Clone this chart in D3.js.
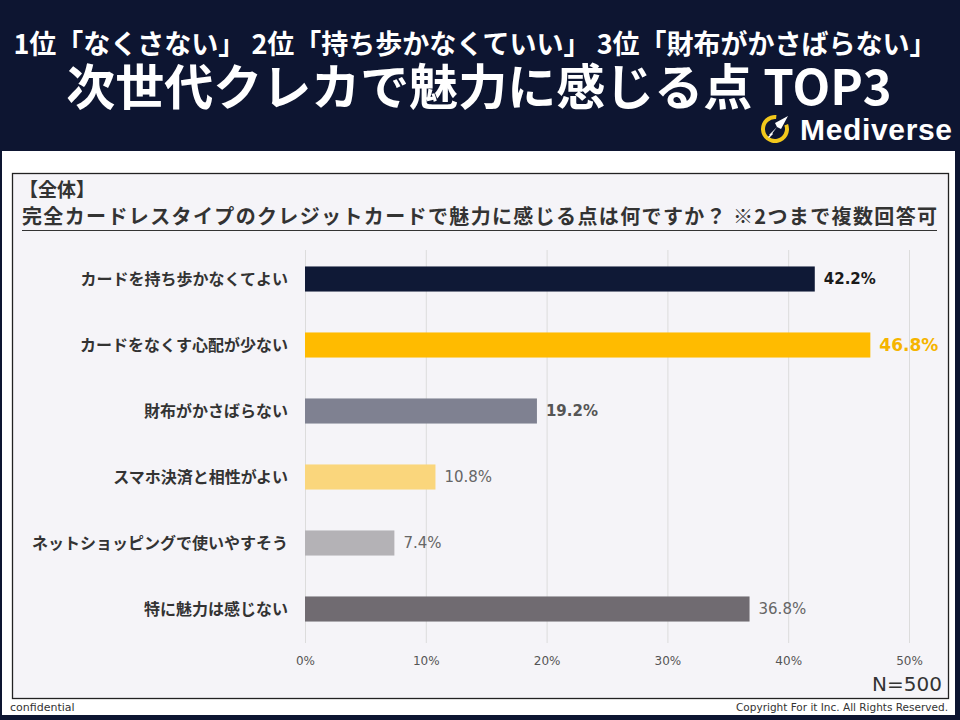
<!DOCTYPE html>
<html><head><meta charset="utf-8">
<script src="https://cdnjs.cloudflare.com/ajax/libs/d3/7.8.5/d3.min.js"></script>
<style>body{margin:0;background:#0d1531;}svg{display:block;}</style>
</head><body><svg id="c" width="960" height="720"></svg>
<script>
const headline1 = "1位「なくさない」 2位「持ち歩かなくていい」 3位「財布がかさばらない」";
const headline2 = "次世代クレカで魅力に感じる点 TOP3";
const segmentTitle = "【全体】";
const question = "完全カードレスタイプのクレジットカードで魅力に感じる点は何ですか？ ※2つまで複数回答可";
const categories = ["カードを持ち歩かなくてよい","カードをなくす心配が少ない","財布がかさばらない","スマホ決済と相性がよい","ネットショッピングで使いやすそう","特に魅力は感じない"];
const values = [42.2, 46.8, 19.2, 10.8, 7.4, 36.8];
const barColors = ["#0f1936","#ffbb00","#7f8191","#fad67c","#b4b2b6","#706b71"];
const labelColors = ["#1a1a1a","#f5b400","#555555","#666666","#666666","#666666"];
const labelWeights = [700,700,700,400,400,400];
const labelSizes = [15,17,15,15,15,15];
const xTicks = [0,10,20,30,40,50];
const sampleNote = "N=500";

const svg = d3.select("#c");
const JP = "'Noto Sans CJK JP','Noto Sans',sans-serif";

svg.append("rect").attr("width",960).attr("height",720).attr("fill","#0d1531");
svg.append("rect").attr("x",2).attr("y",151).attr("width",953).attr("height",564).attr("fill","#ffffff");

// header
svg.append("text").attr("x",475).attr("y",54).attr("text-anchor","middle")
  .attr("font-family",JP).attr("font-weight",700).attr("font-size",27).attr("fill","#fff").text(headline1);
svg.append("text").attr("x",479).attr("y",105).attr("text-anchor","middle")
  .attr("font-family",JP).attr("font-weight",700).attr("font-size",49).attr("fill","#fff").text(headline2);

// logo
const lg = svg.append("g").attr("transform","translate(775,129)");
lg.append("path").attr("d", d3.arc().innerRadius(10).outerRadius(14).startAngle(0.3*Math.PI).endAngle(1.95*Math.PI)())
  .attr("transform","rotate(15)").attr("fill","#f2c81c");
lg.append("path").attr("d","M-6,6 L2,-2 L0,-6 L13,-13 L6,0 L2,-2 L-4,6 Z").attr("fill","#fff");
lg.append("path").attr("d","M-7,8 L-3,4 L-2,5 L-6,9 Z").attr("fill","#fff");
svg.append("text").attr("x",800).attr("y",140).attr("font-family","'Liberation Sans',Arial,sans-serif")
  .attr("font-weight",700).attr("font-size",30).attr("fill","#fff").attr("textLength",152).text("Mediverse");

// inner box
svg.append("rect").attr("x",12.5).attr("y",173.5).attr("width",936).attr("height",525)
  .attr("fill","#f5f4f8").attr("stroke","#222").attr("stroke-width",1.3);

svg.append("text").attr("x",19).attr("y",197).attr("font-family",JP).attr("font-weight",700)
  .attr("font-size",19).attr("fill","#333").text(segmentTitle);
svg.append("text").attr("x",22).attr("y",224).attr("font-family",JP).attr("font-weight",700)
  .attr("font-size",20).attr("fill","#333").attr("textLength",915).attr("lengthAdjust","spacing").text(question);
svg.append("line").attr("x1",22).attr("x2",937).attr("y1",230.5).attr("y2",230.5).attr("stroke","#333").attr("stroke-width",1.2);

// scales
const x = d3.scaleLinear().domain([0,50]).range([305,909]);
const y = d3.scaleBand().domain(categories).range([246,642]).paddingInner(0.62).paddingOuter(0.31);

svg.append("g").selectAll("line").data(xTicks).join("line")
  .attr("x1",d=>x(d)+0.5).attr("x2",d=>x(d)+0.5).attr("y1",250).attr("y2",643)
  .attr("stroke","#dcdcdc").attr("stroke-width",1);

const ax = svg.append("g").attr("transform","translate(0,643)")
  .call(d3.axisBottom(x).tickValues(xTicks).tickFormat(d=>d+"%").tickSize(0).tickPadding(13));
ax.select(".domain").remove();
ax.selectAll("text").attr("font-family","'DejaVu Sans',sans-serif").attr("font-size",12).attr("fill","#555");

svg.append("g").selectAll("rect").data(values).join("rect")
  .attr("x",x(0)).attr("y",(d,i)=>y(categories[i])).attr("height",y.bandwidth())
  .attr("width",d=>x(d)-x(0)).attr("fill",(d,i)=>barColors[i]);

svg.append("g").selectAll("text").data(categories).join("text")
  .attr("x",288).attr("y",d=>y(d)+y.bandwidth()/2).attr("dy","0.36em").attr("text-anchor","end")
  .attr("font-family",JP).attr("font-weight",700).attr("font-size",16).attr("fill","#333").text(d=>d);

svg.append("g").selectAll("text").data(values).join("text")
  .attr("x",d=>x(d)+9).attr("y",(d,i)=>y(categories[i])+y.bandwidth()/2).attr("dy","0.36em")
  .attr("font-family","'DejaVu Sans',sans-serif").attr("font-weight",(d,i)=>labelWeights[i])
  .attr("font-size",(d,i)=>labelSizes[i]).attr("fill",(d,i)=>labelColors[i]).text(d=>d.toFixed(1)+"%");

svg.append("text").attr("x",942).attr("y",691).attr("text-anchor","end").attr("font-family","'DejaVu Sans',sans-serif")
  .attr("font-size",20).attr("fill","#333").text(sampleNote);
svg.append("text").attr("x",10).attr("y",711).attr("font-family","'DejaVu Sans',sans-serif")
  .attr("font-size",11).attr("fill","#333").text("confidential");
svg.append("text").attr("x",948).attr("y",711).attr("text-anchor","end").attr("font-family","'DejaVu Sans',sans-serif")
  .attr("font-size",10.5).attr("fill","#333").text("Copyright For it Inc. All Rights Reserved.");
</script></body></html>
